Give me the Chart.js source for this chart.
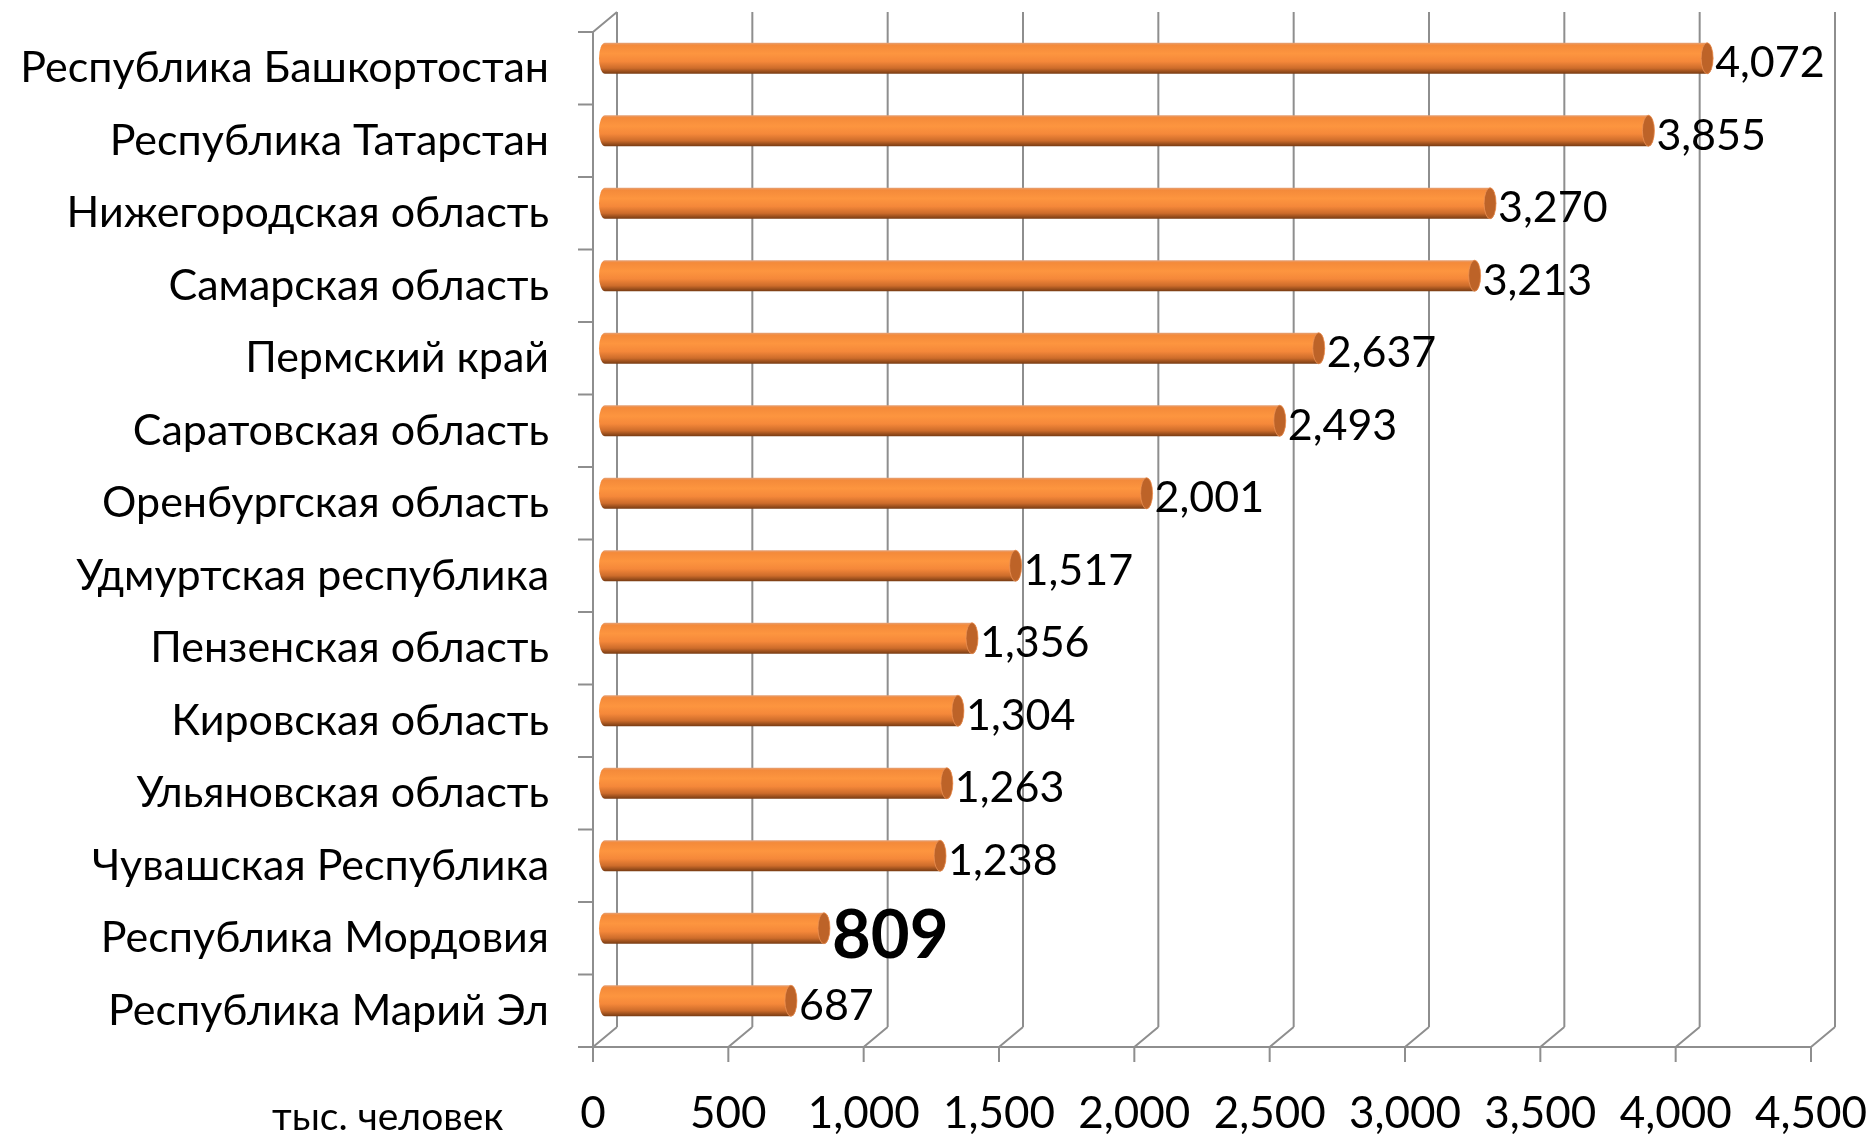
<!DOCTYPE html>
<html>
<head>
<meta charset="utf-8">
<script src="https://cdn.jsdelivr.net/npm/chart.js@4.4.1/dist/chart.umd.min.js"></script>
<style>
  html, body { margin: 0; padding: 0; background: #fff; }
</style>
</head>
<body>
<canvas id="mycanvas" width="1872" height="1136"></canvas>
<script>
var regions = [
  'Республика Башкортостан',
  'Республика Татарстан',
  'Нижегородская область',
  'Самарская область',
  'Пермский край',
  'Саратовская область',
  'Оренбургская область',
  'Удмуртская республика',
  'Пензенская область',
  'Кировская область',
  'Ульяновская область',
  'Чувашская Республика',
  'Республика Мордовия',
  'Республика Марий Эл'
];
var population = [4072, 3855, 3270, 3213, 2637, 2493, 2001, 1517, 1356, 1304, 1263, 1238, 809, 687];
var boldRegions = ['Республика Мордовия'];
var unitLabel = 'тыс. человек';

var FONT = 'Lato';
var depthX = 24, depthY = -20;
var gridColor = '#8e8e8e';

function fmt(v) { return Number(v).toLocaleString('en-US'); }

// walls, gridlines and ticks of the 3d frame
var walls = {
  id: 'walls',
  beforeDatasetsDraw: function(chart) {
    var ctx = chart.ctx, a = chart.chartArea, xs = chart.scales.x, ys = chart.scales.y;
    ctx.save();
    ctx.strokeStyle = gridColor;
    ctx.lineWidth = 2;
    ctx.beginPath();
    xs.ticks.forEach(function(t) {
      var x = xs.getPixelForValue(t.value);
      ctx.moveTo(x + depthX, a.top + depthY);
      ctx.lineTo(x + depthX, a.bottom + depthY);
      ctx.moveTo(x, a.bottom);
      ctx.lineTo(x + depthX, a.bottom + depthY);
      ctx.moveTo(x, a.bottom);
      ctx.lineTo(x, a.bottom + 15);
    });
    ctx.moveTo(a.left, a.bottom);
    ctx.lineTo(a.right, a.bottom);
    ctx.moveTo(a.left, a.top);
    ctx.lineTo(a.left, a.bottom);
    ctx.moveTo(a.left, a.top);
    ctx.lineTo(a.left + depthX, a.top + depthY);
    for (var i = 0; i <= ys.ticks.length; i++) {
      var y = ys.getPixelForValue(i - 0.5);
      ctx.moveTo(a.left - 15, y);
      ctx.lineTo(a.left, y);
    }
    ctx.stroke();
    ctx.restore();
  }
};

// cylinder bars + value labels
var cylinders = {
  id: 'cylinders',
  afterDatasetsDraw: function(chart) {
    var ctx = chart.ctx;
    var meta = chart.getDatasetMeta(0);
    ctx.save();
    meta.data.forEach(function(bar, i) {
      var p = bar.getProps(['x', 'y', 'base', 'height'], true);
      var x0 = p.base + depthX / 2, x1 = p.x + depthX / 2, yc = p.y + depthY / 2;
      var r = p.height / 2, rx = 6;
      var g = ctx.createLinearGradient(0, yc - r, 0, yc + r);
      g.addColorStop(0, '#e3a27a');
      g.addColorStop(0.08, '#f48a3a');
      g.addColorStop(0.35, '#fd953f');
      g.addColorStop(0.6, '#f5883a');
      g.addColorStop(0.82, '#cd6c2b');
      g.addColorStop(1, '#763a12');
      ctx.beginPath();
      ctx.moveTo(x0, yc - r);
      ctx.lineTo(x1, yc - r);
      ctx.ellipse(x1, yc, rx, r, 0, -Math.PI / 2, Math.PI / 2, false);
      ctx.lineTo(x0, yc + r);
      ctx.ellipse(x0, yc, rx, r, 0, Math.PI / 2, Math.PI * 1.5, false);
      ctx.closePath();
      ctx.fillStyle = g;
      ctx.fill();
      ctx.beginPath();
      ctx.ellipse(x1, yc, rx, r, 0, 0, Math.PI * 2);
      ctx.fillStyle = '#bd6328';
      ctx.fill();
      ctx.strokeStyle = 'rgba(240,150,90,0.7)';
      ctx.lineWidth = 1;
      ctx.stroke();

      var bold = boldRegions.indexOf(regions[i]) >= 0;
      ctx.fillStyle = '#000';
      ctx.textAlign = 'left';
      ctx.textBaseline = 'middle';
      ctx.font = bold ? 'bold 67px ' + FONT : '43px ' + FONT;
      ctx.fillText(fmt(population[i]), x1 + rx + 2, yc + (bold ? 8 : 5));
    });
    ctx.font = '39px ' + FONT;
    ctx.textBaseline = 'alphabetic';
    ctx.fillText(unitLabel, 272, 1130);
    ctx.restore();
  }
};

var ctx = document.getElementById('mycanvas');
var chart = new Chart(ctx, {
  type: 'bar',
  data: {
    labels: regions,
    datasets: [{
      label: unitLabel,
      data: population,
      backgroundColor: 'rgba(0,0,0,0)',
      borderWidth: 0,
      categoryPercentage: 1,
      barPercentage: 0.43
    }]
  },
  options: {
    responsive: false,
    animation: false,
    indexAxis: 'y',
    layout: { padding: { top: 32, right: 61, left: 0, bottom: 0 } },
    plugins: { legend: { display: false }, tooltip: { enabled: false } },
    scales: {
      x: {
        min: 0, max: 4500,
        ticks: { stepSize: 500, padding: 32, color: '#000', maxRotation: 0, autoSkip: false,
          font: { family: FONT, size: 44 }, callback: function(v) { return fmt(v); } },
        grid: { display: false },
        border: { display: false },
        afterFit: function(s) { s.height = 89; s.paddingLeft = 0; s.paddingRight = 0; }
      },
      y: {
        ticks: { padding: 36, color: '#000', autoSkip: false, font: { family: FONT, size: 43 } },
        grid: { display: false },
        border: { display: false },
        afterFit: function(s) { s.width = 593; s.paddingTop = 0; s.paddingBottom = 0; }
      }
    }
  },
  plugins: [walls, cylinders]
});
</script>
</body>
</html>
